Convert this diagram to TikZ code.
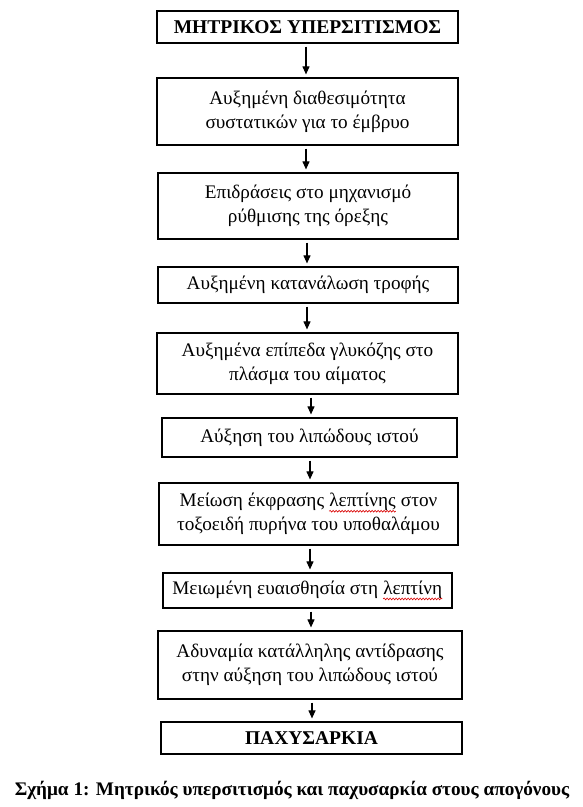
\documentclass[tikz,border=0pt]{standalone}
\usepackage{fontspec}
\setmainfont{Liberation Serif}
\usetikzlibrary{arrows.meta,decorations.pathmorphing}
\newcommand\redwave[1]{\tikz[baseline=(w.base),x=1cm,y=1cm]{\node[inner sep=0pt,draw=none,minimum width=0pt,minimum height=0pt] (w) {#1};
  \draw[red!85!black, line width=0.6pt, decorate, decoration={snake, amplitude=0.9pt, segment length=3pt}] ([yshift=-4.5pt]w.base west) -- ([yshift=-4.5pt]w.base east);}}
\begin{document}
\begin{tikzpicture}[x=1pt,y=-1pt,
  box/.style={draw=black, line width=1.2pt, rectangle, inner sep=0pt, align=center,
    font=\fontsize{19.2}{24}\selectfont},
  tbox/.style={box, font=\fontsize{19.5}{24}\bfseries\selectfont},
  arr/.style={draw=black, line width=1.1pt, shorten <=3pt, shorten >=3pt, -{Triangle[length=8pt,width=7pt]}}]
\useasboundingbox (0,0) rectangle (583,807);
\node[tbox, minimum width=301pt, minimum height=32pt] (b1) at (307.5,27) {ΜΗΤΡΙΚΟΣ ΥΠΕΡΣΙΤΙΣΜΟΣ};
\node[box, minimum width=301pt, minimum height=67pt] (b2) at (307.5,111.5) {Αυξημένη διαθεσιμότητα\\συστατικών για το έμβρυο};
\node[box, minimum width=300pt, minimum height=66pt] (b3) at (308,206) {Επιδράσεις στο μηχανισμό\\ρύθμισης της όρεξης};
\node[box, minimum width=300pt, minimum height=36pt] (b4) at (308,285) {Αυξημένη κατανάλωση τροφής};
\node[box, minimum width=301pt, minimum height=61pt] (b5) at (307.5,363.5) {Αυξημένα επίπεδα γλυκόζης στο\\πλάσμα του αίματος};
\node[box, minimum width=295pt, minimum height=39pt] (b6) at (309.5,437.5) {Αύξηση του λιπώδους ιστού};
\node[box, minimum width=299pt, minimum height=62pt] (b7) at (308.5,514) {Μείωση έκφρασης \redwave{λεπτίνης} στον\\τοξοειδή πυρήνα του υποθαλάμου};
\node[box, minimum width=289pt, minimum height=35pt] (b8) at (307.5,590.5) {Μειωμένη ευαισθησία στη \redwave{λεπτίνη}};
\node[box, minimum width=304pt, minimum height=68pt] (b9) at (310,665) {Αδυναμία κατάλληλης αντίδρασης\\στην αύξηση του λιπώδους ιστού};
\node[tbox, minimum width=301pt, minimum height=32pt] (b10) at (311.5,738) {ΠΑΧΥΣΑΡΚΙΑ};
\node[font=\fontsize{19.2}{22}\bfseries\selectfont, inner sep=0pt, anchor=base] (cap) at (292,795) {Σχήμα 1: Μητρικός υπερσιτισμός και παχυσαρκία στους απογόνους};
\draw[arr] ([xshift=-1.5pt]b1.south) -- ([xshift=-1.5pt]b1.south |- b2.north);
\draw[arr] ([xshift=-1.5pt]b2.south) -- ([xshift=-1.5pt]b2.south |- b3.north);
\draw[arr] ([xshift=-1pt]b3.south) -- ([xshift=-1pt]b3.south |- b4.north);
\draw[arr] ([xshift=-1pt]b4.south) -- ([xshift=-1pt]b4.south |- b5.north);
\draw[arr] ([xshift=3.5pt]b5.south) -- ([xshift=3.5pt]b5.south |- b6.north);
\draw[arr] ([xshift=0.5pt]b6.south) -- ([xshift=0.5pt]b6.south |- b7.north);
\draw[arr] ([xshift=1.5pt]b7.south) -- ([xshift=1.5pt]b7.south |- b8.north);
\draw[arr] ([xshift=3.5pt]b8.south) -- ([xshift=3.5pt]b8.south |- b9.north);
\draw[arr] ([xshift=2pt]b9.south) -- ([xshift=2pt]b9.south |- b10.north);
\end{tikzpicture}
\end{document}
